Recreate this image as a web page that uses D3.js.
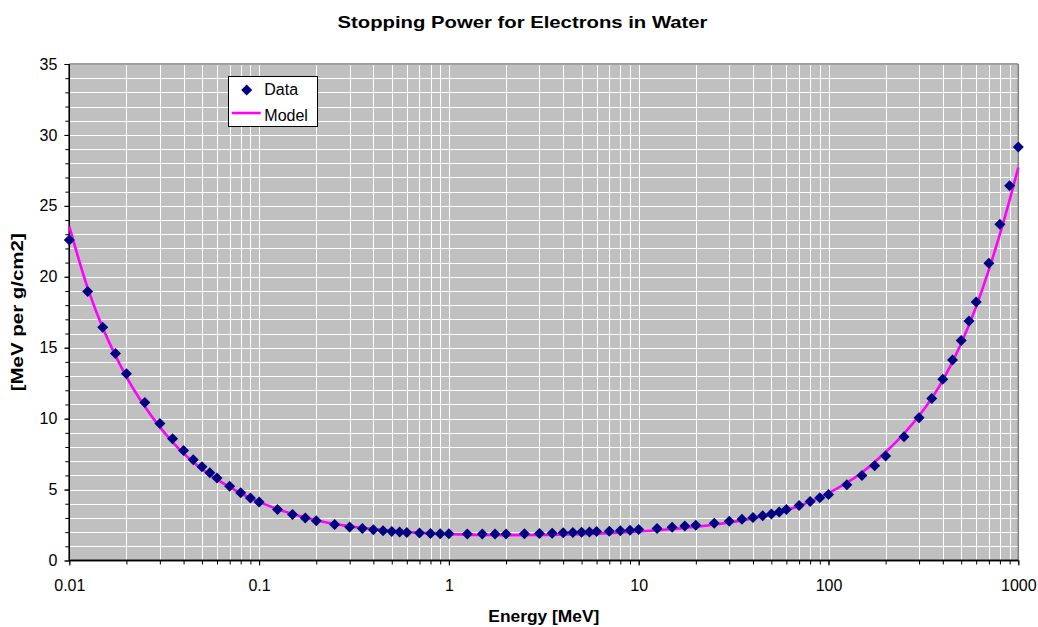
<!DOCTYPE html>
<html>
<head>
<meta charset="utf-8">
<script src="https://cdn.jsdelivr.net/npm/d3@7"></script>
<style>
  html, body { margin: 0; padding: 0; background: #ffffff; }
  svg { display: block; font-family: "Liberation Sans", Arial, sans-serif; }
</style>
</head>
<body>
<svg id="chart" width="1038" height="627"></svg>
<script>
// ---- data ----
const energies = [0.01, 0.0125, 0.015, 0.0175, 0.02, 0.025, 0.03, 0.035, 0.04, 0.045, 0.05, 0.055, 0.06, 0.07, 0.08, 0.09,
  0.1, 0.125, 0.15, 0.175, 0.2, 0.25, 0.3, 0.35, 0.4, 0.45, 0.5, 0.55, 0.6, 0.7, 0.8, 0.9,
  1, 1.25, 1.5, 1.75, 2, 2.5, 3, 3.5, 4, 4.5, 5, 5.5, 6, 7, 8, 9,
  10, 12.5, 15, 17.5, 20, 25, 30, 35, 40, 45, 50, 55, 60, 70, 80, 90,
  100, 125, 150, 175, 200, 250, 300, 350, 400, 450, 500, 550, 600, 700, 800, 900, 1000];
const dataValues = [22.6, 18.97, 16.45, 14.59, 13.17, 11.13, 9.65, 8.58, 7.76, 7.10, 6.60, 6.18, 5.82, 5.23, 4.77, 4.40,
  4.12, 3.60, 3.25, 2.99, 2.80, 2.54, 2.37, 2.25, 2.16, 2.10, 2.05, 2.01, 1.98, 1.94, 1.91, 1.89,
  1.88, 1.86, 1.86, 1.86, 1.87, 1.88, 1.90, 1.92, 1.95, 1.97, 1.99, 2.01, 2.04, 2.07, 2.10, 2.14,
  2.18, 2.25, 2.35, 2.43, 2.49, 2.62, 2.76, 2.91, 3.03, 3.15, 3.28, 3.42, 3.59, 3.88, 4.16, 4.42,
  4.66, 5.34, 6.00, 6.68, 7.36, 8.72, 10.07, 11.42, 12.78, 14.14, 15.50, 16.88, 18.23, 20.95, 23.70, 26.42, 29.15];

const modelEnergies = [0.01, 0.0125, 0.015, 0.0175, 0.02, 0.025, 0.03, 0.035, 0.04, 0.045, 0.05, 0.06, 0.07, 0.08, 0.09,
  0.1, 0.125, 0.15, 0.2, 0.25, 0.3, 0.4, 0.5, 0.7, 1, 1.5, 2, 3, 5, 7, 10, 15, 20, 30, 50, 70,
  100, 150, 200, 250, 300, 400, 500, 600, 700, 800, 900, 1000];
const modelValues = [23.55, 19.2, 16.4, 14.45, 12.95, 10.85, 9.4, 8.35, 7.55, 6.93, 6.45, 5.72, 5.17, 4.74, 4.40,
  4.13, 3.62, 3.27, 2.83, 2.57, 2.41, 2.21, 2.09, 1.95, 1.86, 1.80, 1.79, 1.80, 1.86, 1.93, 2.04, 2.22, 2.38, 2.68, 3.25, 3.85,
  4.75, 6.2, 7.65, 8.95, 10.2, 12.7, 15.3, 17.9, 20.5, 23.0, 25.4, 27.7];

const xTickValues = [0.01, 0.1, 1, 10, 100, 1000];
const xTickLabels = ["0.01", "0.1", "1", "10", "100", "1000"];
const yTickValues = [0, 5, 10, 15, 20, 25, 30, 35];

const titleText = "Stopping Power for Electrons in Water";
const xTitle = "Energy [MeV]";
const yTitle = "[MeV per g/cm2]";
const seriesNames = ["Data", "Model"];

// ---- layout ----
const L = 69.3, R = 1018.3, T = 64, B = 560.5;
const svg = d3.select("#chart");

const x = d3.scaleLog().domain([0.01, 1000]).range([L, R]);
const y = d3.scaleLinear().domain([0, 35]).range([B, T]);

// plot background
svg.append("rect").attr("x", L).attr("y", T).attr("width", R - L).attr("height", B - T).attr("fill", "#C0C0C0");

// gridlines
const minorX = [];
for (let e = -2; e < 3; e++) for (let m = 1; m <= 9; m++) minorX.push(m * Math.pow(10, e));
minorX.push(1000);
const gridY = d3.range(0, 36, 1);

svg.append("g").selectAll("line").data(minorX).join("line")
  .attr("x1", d => Math.round(x(d)) + 0.5).attr("x2", d => Math.round(x(d)) + 0.5)
  .attr("y1", T).attr("y2", B)
  .attr("stroke", "#ffffff").attr("stroke-width", 1);
svg.append("g").selectAll("line").data(gridY).join("line")
  .attr("x1", L).attr("x2", R)
  .attr("y1", d => Math.round(y(d)) + 0.5).attr("y2", d => Math.round(y(d)) + 0.5)
  .attr("stroke", "#ffffff").attr("stroke-width", 1);

// plot border (top/right grey)
svg.append("line").attr("x1", L).attr("x2", R).attr("y1", T).attr("y2", T).attr("stroke", "#808080").attr("stroke-width", 1.5);
svg.append("line").attr("x1", R).attr("x2", R).attr("y1", T).attr("y2", B).attr("stroke", "#808080").attr("stroke-width", 1.5);

// axes
const yAxisMinor = svg.append("g").attr("transform", `translate(${L},0)`)
  .call(d3.axisLeft(y).tickValues(gridY).tickSize(4).tickFormat(""));
const yAxis = svg.append("g").attr("transform", `translate(${L},0)`)
  .call(d3.axisLeft(y).tickValues(yTickValues).tickSize(5).tickPadding(7).tickFormat(d3.format("d")));
const xAxisMinor = svg.append("g").attr("transform", `translate(0,${B})`)
  .call(d3.axisBottom(x).tickValues(minorX).tickSize(4).tickFormat(""));
const xAxis = svg.append("g").attr("transform", `translate(0,${B})`)
  .call(d3.axisBottom(x).tickValues(xTickValues).tickSize(5).tickPadding(14)
    .tickFormat((d, i) => xTickLabels[i]));

[yAxisMinor, yAxis, xAxisMinor, xAxis].forEach(g => {
  g.select(".domain").attr("stroke", "#000").attr("stroke-width", 1.3);
  g.selectAll(".tick line").attr("stroke", "#000").attr("stroke-width", 1);
  g.selectAll("text").attr("font-size", 16).attr("fill", "#000")
    .attr("font-family", "'Liberation Sans', Arial, sans-serif");
});
xAxis.select(".domain").attr("d", `M${L},0H${R}`);
xAxisMinor.select(".domain").attr("d", `M${L},0H${R}`);
yAxis.select(".domain").attr("d", `M0,${B}V${T}`);
yAxisMinor.select(".domain").attr("d", `M0,${B}V${T}`);

// model line
const line = d3.line().x(d => x(d[0])).y(d => y(d[1])).curve(d3.curveMonotoneX);
svg.append("path")
  .datum(modelEnergies.map((e, i) => [e, modelValues[i]]))
  .attr("d", line).attr("fill", "none").attr("stroke", "#FF00FF").attr("stroke-width", 2.6);

// data diamonds
const diamond = "M0,-5.5L5.5,0L0,5.5L-5.5,0Z";
svg.append("g").selectAll("path").data(energies).join("path")
  .attr("d", diamond)
  .attr("transform", (d, i) => `translate(${x(d)},${y(dataValues[i])})`)
  .attr("fill", "#000080");

// title & axis titles
svg.append("text").attr("x", 522.5).attr("y", 28).attr("text-anchor", "middle")
  .attr("font-size", 17).attr("font-weight", "bold")
  .attr("textLength", 370).attr("lengthAdjust", "spacingAndGlyphs").text(titleText);
svg.append("text").attr("x", 543.8).attr("y", 622).attr("text-anchor", "middle")
  .attr("font-size", 16).attr("font-weight", "bold")
  .attr("textLength", 111).attr("lengthAdjust", "spacingAndGlyphs").text(xTitle);
svg.append("text").attr("transform", `translate(23,${(T + B) / 2}) rotate(-90)`)
  .attr("text-anchor", "middle")
  .attr("font-size", 16).attr("font-weight", "bold")
  .attr("textLength", 158).attr("lengthAdjust", "spacingAndGlyphs").text(yTitle);

// legend
const lg = svg.append("g");
lg.append("rect").attr("x", 228.5).attr("y", 76.5).attr("width", 89).attr("height", 50)
  .attr("fill", "#ffffff").attr("stroke", "#000").attr("stroke-width", 1);
lg.append("path").attr("d", diamond).attr("transform", "translate(246.7,90)").attr("fill", "#000080");
lg.append("line").attr("x1", 231.7).attr("x2", 260.7).attr("y1", 113).attr("y2", 113)
  .attr("stroke", "#FF00FF").attr("stroke-width", 2.6);
lg.append("text").attr("x", 264.3).attr("y", 95).attr("font-size", 16).text(seriesNames[0]);
lg.append("text").attr("x", 264.3).attr("y", 121).attr("font-size", 16).text(seriesNames[1]);
</script>
</body>
</html>
